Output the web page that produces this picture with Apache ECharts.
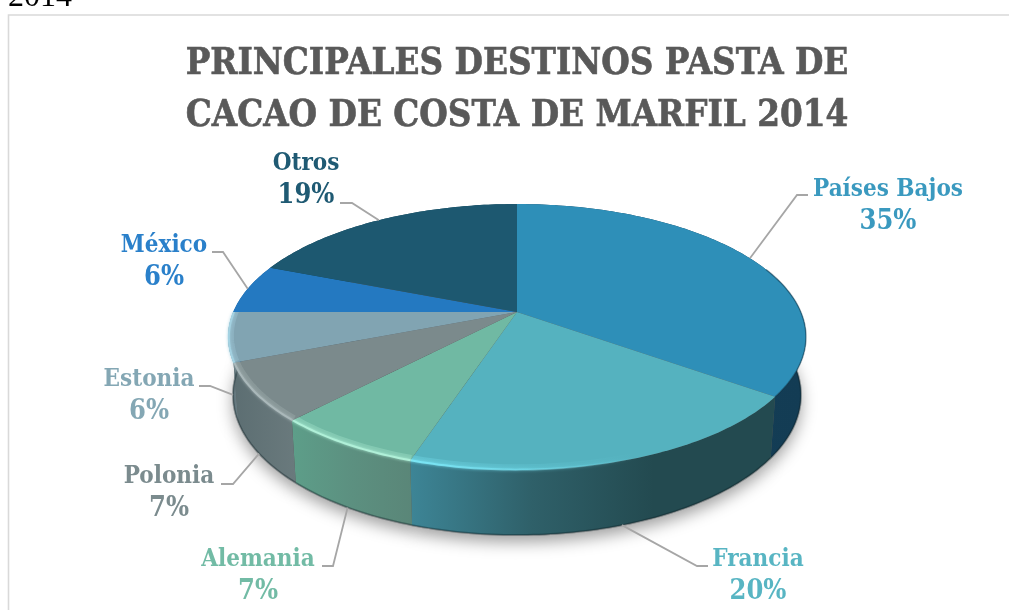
<!DOCTYPE html>
<html>
<head>
<meta charset="utf-8">
<style>html,body{margin:0;padding:0;background:#fff;overflow:hidden}#c{width:1009px;height:610px}</style>
<script src="https://cdn.jsdelivr.net/npm/echarts@6/dist/echarts.min.js"></script>
</head>
<body>
<div id="c"></div>
<script>
var titleLines = ['PRINCIPALES DESTINOS PASTA DE', 'CACAO DE COSTA DE MARFIL 2014'];
var categories = ['Países Bajos', 'Francia', 'Alemania', 'Polonia', 'Estonia', 'México', 'Otros'];
var shares = [35, 20, 7, 7, 6, 6, 19];

var topColors = ['#2e8fb8', '#55b2bf', '#70b9a3', '#7b8a8c', '#81a4b2', '#2479c1', '#1d5870'];
var labelColors = ['#3a99bf', '#58b5c3', '#72bba5', '#7b8b8e', '#84a7b4', '#2a80ca', '#1f5a73'];
var wallStops = [
  ['#163f58', '#133c54'],
  ['#3d8596', '#2f6069', '#234a50', '#234a50'],
  ['#5d9e89', '#5c9080', '#5a8678'],
  ['#5c6e72', '#6a7a7d'],
  ['#5c6e74', '#6a7e84'],
  ['#1c5f98', '#1c5f98'],
  ['#174658', '#174658']
];
var rimColors = [null, '#7be6f6', '#b0f0d8', '#aab8ba', '#a4d2e2', null, null];
var rimFade = [1, 0.62, 1, 1, 1, 1, 1];
var labelFrontPlane = [false, true, true, true, true, false, false];
var labelCenters = [[888, 204], [758, 574], [258, 574], [169, 491], [149, 394], [164, 260], [306, 178]];
var elbows = [
  [[797, 195], [808, 195]], [[697, 566], [708, 566]], [[333, 566], [322, 566]],
  [[233, 484], [221, 484]], [[210, 386], [199, 386]], [[223, 252], [212, 252]], [[352, 203], [340, 203]]
];

var K = 0.188;
var topPlane = { cx: 517, y0: 312, A: 128.3, B: 283.8 };
var basePlane = { cx: 517, y0: 368.7, A: 135.1, B: 278.9 };
var total = shares.reduce(function (a, b) { return a + b; }, 0);
var starts = [];
shares.reduce(function (acc, s, i) { starts[i] = acc; return acc + s; }, 0);

function project(frac, p) {
  var t = 2 * Math.PI * frac, u = Math.sin(t), v = -Math.cos(t), s = 1 / (1 - K * v);
  return [p.cx + p.B * u * s, p.y0 + p.A * v * s];
}
function arc(i, p, from, to) {
  var a = (starts[i] + (from || 0) * shares[i]) / total;
  var b = (starts[i] + (to === undefined ? 1 : to) * shares[i]) / total;
  var n = Math.ceil((b - a) * 360), pts = [];
  for (var k = 0; k <= n; k++) pts.push(project(a + (b - a) * k / n, p));
  return pts;
}
function hGrad(colors) {
  return new echarts.graphic.LinearGradient(0, 0, 1, 0, colors.map(function (c, i) {
    return { offset: i / (colors.length - 1), color: c };
  }));
}
function sliceData() {
  return categories.map(function (name, i) { return { name: name, value: shares[i] }; });
}
function renderShadow(params) {
  var i = params.dataIndex;
  return {
    type: 'polygon',
    shape: { points: [[basePlane.cx, basePlane.y0]].concat(arc(i, basePlane)) },
    style: { fill: '#555', shadowBlur: 16, shadowColor: 'rgba(0,0,0,0.38)', shadowOffsetY: 7 }
  };
}
function renderWall(params) {
  var i = params.dataIndex;
  var pts = arc(i, topPlane).concat(arc(i, basePlane).reverse());
  var edge = arc(i, basePlane);
  return {
    type: 'group',
    children: [
      { type: 'polygon', shape: { points: pts }, style: { fill: hGrad(wallStops[i]) } },
      { type: 'polyline', shape: { points: edge }, style: { fill: 'none', stroke: 'rgba(10,30,35,0.35)', lineWidth: 2 } }
    ]
  };
}
function renderTop(params) {
  var i = params.dataIndex;
  var children = [{
    type: 'polygon',
    shape: { points: [[topPlane.cx, topPlane.y0]].concat(arc(i, topPlane)) },
    style: { fill: topColors[i] }
  }];
  if (rimColors[i]) {
    var c = rimColors[i];
    var faded = echarts.color.modifyAlpha(c, 0);
    var glow = echarts.color.modifyAlpha(c, 0.3);
    var stops = function (col) {
      return new echarts.graphic.LinearGradient(0, 0, 1, 0, [
        { offset: 0, color: col }, { offset: rimFade[i], color: faded }, { offset: 1, color: faded }
      ]);
    };
    var full = rimFade[i] === 1;
    children.push({ type: 'polyline', shape: { points: arc(i, { cx: 517, y0: 311, A: 126.5, B: 280.5 }) },
      style: { fill: 'none', lineWidth: 5, stroke: full ? glow : stops(glow) } });
    children.push({ type: 'polyline', shape: { points: arc(i, { cx: 517, y0: 312, A: 128, B: 283 }) },
      style: { fill: 'none', lineWidth: 2, stroke: full ? c : stops(c), shadowBlur: 3, shadowColor: c } });
  }
  if (i === 0) {
    children.push({ type: 'polyline', shape: { points: arc(i, topPlane, 0.55, 1) },
      style: { fill: 'none', lineWidth: 1.5, stroke: 'rgba(12,50,70,0.45)' } });
  }
  return { type: 'group', children: children };
}
function renderLabel(params) {
  var i = params.dataIndex;
  var mid = (starts[i] + shares[i] / 2) / total;
  var anchor = project(mid, labelFrontPlane[i] ? basePlane : topPlane);
  var x = labelCenters[i][0], y = labelCenters[i][1];
  return {
    type: 'group',
    children: [
      { type: 'polyline', shape: { points: [anchor].concat(elbows[i]) },
        style: { fill: 'none', stroke: '#a6a6a6', lineWidth: 1.8 } },
      { type: 'text', style: { x: x, y: y - 14, text: categories[i], fill: labelColors[i],
          fontFamily: 'DejaVu Serif Condensed', fontWeight: 'bold', fontSize: 24, align: 'center', verticalAlign: 'middle' } },
      { type: 'text', style: { x: x, y: y + 18, text: shares[i] + '%', fill: labelColors[i],
          fontFamily: 'DejaVu Serif Condensed', fontWeight: 'bold', fontSize: 27, align: 'center', verticalAlign: 'middle' } }
    ]
  };
}
function customSeries(fn, z) {
  return { type: 'custom', coordinateSystem: 'none', renderItem: fn, data: sliceData(), z: z, silent: true, animation: false };
}
var chart = echarts.init(document.getElementById('c'), null, { renderer: 'canvas' });
chart.setOption({
  animation: false,
  backgroundColor: '#fff',
  title: {
    text: titleLines.join('\n'),
    left: 512, top: 34, textAlign: 'center',
    textStyle: { fontFamily: 'DejaVu Serif Condensed', fontWeight: 'bold', fontSize: 36.4, lineHeight: 52, color: '#595959', textBorderColor: '#595959', textBorderWidth: 0.6 }
  },
  graphic: [
    { type: 'rect', z: 0, shape: { x: 8.5, y: 15, width: 1100, height: 700 }, style: { fill: 'none', stroke: '#d9d9d9', lineWidth: 1.6 } },
    { type: 'text', z: 0, style: { x: 8, y: 14, text: '2014', fill: '#000', font: '32px "Liberation Serif"', align: 'left', verticalAlign: 'bottom' } }
  ],
  series: [customSeries(renderShadow, 1), customSeries(renderWall, 2), customSeries(renderTop, 3), customSeries(renderLabel, 4)]
});
</script>
</body>
</html>
